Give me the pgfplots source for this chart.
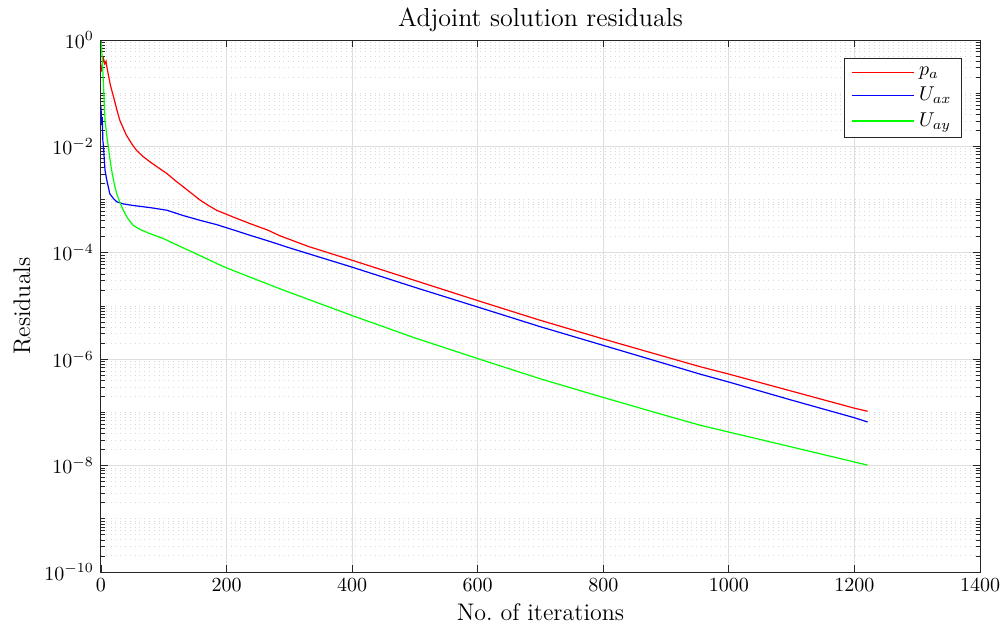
\documentclass[border=0pt]{standalone}
\usepackage{pgfplots}
\pgfplotsset{compat=1.18}
\definecolor{gridc}{RGB}{222,222,222}
\definecolor{axc}{RGB}{38,38,38}
\begin{document}
\begin{tikzpicture}
\useasboundingbox (-50.5pt,-29.5pt) rectangle (452.5pt,286pt);
\begin{axis}[
  at={(0,0)}, anchor=south west,
  scale only axis, width=439.5pt, height=266pt,
  ymode=log, log basis y=10,
  xmin=0, xmax=1400, ymin=1e-10, ymax=1,
  xtick={0,200,...,1400},
  xticklabel style={/pgf/number format/1000 sep={}},
  ytick={1e-10,1e-8,1e-6,1e-4,1e-2,1},
  minor ytick={2e-10,3e-10,4e-10,5e-10,6e-10,7e-10,8e-10,9e-10,1e-9,
               2e-9,3e-9,4e-9,5e-9,6e-9,7e-9,8e-9,9e-9,
               2e-8,3e-8,4e-8,5e-8,6e-8,7e-8,8e-8,9e-8,1e-7,
               2e-7,3e-7,4e-7,5e-7,6e-7,7e-7,8e-7,9e-7,
               2e-6,3e-6,4e-6,5e-6,6e-6,7e-6,8e-6,9e-6,1e-5,
               2e-5,3e-5,4e-5,5e-5,6e-5,7e-5,8e-5,9e-5,
               2e-4,3e-4,4e-4,5e-4,6e-4,7e-4,8e-4,9e-4,1e-3,
               2e-3,3e-3,4e-3,5e-3,6e-3,7e-3,8e-3,9e-3,
               2e-2,3e-2,4e-2,5e-2,6e-2,7e-2,8e-2,9e-2,1e-1,
               2e-1,3e-1,4e-1,5e-1,6e-1,7e-1,8e-1,9e-1},
  xmajorgrids, ymajorgrids, yminorgrids,
  major grid style={gridc, line width=0.5pt},
  minor grid style={gray!30, dotted, line width=0.5pt},
  tick align=inside,
  major tick length=3.5pt, minor tick length=2pt,
  tick style={axc, line width=0.4pt},
  axis line style={axc, line width=0.5pt},
  tick label style={font=\fontsize{10}{12}\selectfont},
  title={Adjoint solution residuals},
  every axis title/.style={at={(axis description cs:0.5,1.0376)}, anchor=center, font=\fontsize{13}{15}\selectfont},
  xlabel={No.\ of iterations},
  every axis x label/.style={at={(axis description cs:0.5,-0.0752)}, anchor=center, font=\fontsize{12}{14}\selectfont},
  ylabel={Residuals},
  every axis y label/.style={at={(axis description cs:-0.0899,0.5)}, rotate=90, anchor=center, font=\fontsize{12}{14}\selectfont},
  legend style={at={(rel axis cs:0.9795,0.966)}, anchor=north east, draw=axc, line width=0.5pt,
    font=\fontsize{10}{12}\selectfont, inner xsep=3pt, inner ysep=2pt, row sep=0.5pt, cells={anchor=west}},
  legend image code/.code={\draw[#1, line width=0.8pt] (0cm,0cm) -- (1.1cm,0cm);},
  legend cell align=left,
]
\addplot[red, line width=0.6pt] coordinates {
(0,2.51e-1) (2,3.55e-1) (4,4.47e-1) (6,3.55e-1) (8,3.98e-1) (10,2.82e-1)
(15,1.41e-1) (20,8.51e-2) (25,5.01e-2) (30,3.09e-2) (40,1.66e-2) (50,1.07e-2)
(57,8.32e-3) (68,6.31e-3) (78,5.13e-3) (90,4.07e-3) (105,3.09e-3) (118,2.29e-3)
(131,1.74e-3) (145,1.29e-3) (158,9.77e-4) (171,7.76e-4) (184,6.31e-4) (211,4.68e-4)
(237,3.55e-4) (265,2.69e-4) (285,2.09e-4) (330,1.32e-4) (400,7.24e-5) (500,3.02e-5)
(603,1.23e-5) (700,5.37e-6) (800,2.40e-6) (900,1.10e-6) (954,7.24e-7) (1000,5.25e-7)
(1100,2.51e-7) (1200,1.20e-7) (1221,1.05e-7)
};
\addlegendentry{$p_a$}
\addplot[blue, line width=0.6pt] coordinates {
(0,5.62e-2) (1,2.51e-2) (2,3.55e-2) (3,1.26e-2) (4,1.00e-2) (5,6.31e-3) (6.4,3.55e-3)
(9,2.40e-3) (11.6,1.74e-3) (14,1.29e-3) (19.6,1.05e-3) (25,9.12e-4) (35,8.32e-4)
(51,7.76e-4) (78,7.08e-4) (105,6.31e-4) (131,5.01e-4) (158,4.07e-4) (184,3.39e-4)
(211,2.69e-4) (237,2.14e-4) (270,1.62e-4) (301,1.23e-4) (400,5.37e-5) (500,2.24e-5)
(603,9.33e-6) (700,4.07e-6) (800,1.82e-6) (900,8.13e-7) (954,5.25e-7) (1000,3.72e-7)
(1100,1.70e-7) (1200,7.94e-8) (1221,6.61e-8)
};
\addlegendentry{$U_{ax}$}
\addplot[green, line width=0.6pt] coordinates {
(0,9.55e-1) (2,4.47e-1) (4,1.41e-1) (6.4,3.09e-2) (9,1.66e-2) (11.6,1.00e-2) (14,6.03e-3)
(17,3.55e-3) (21,2.00e-3) (25,1.29e-3) (30,8.91e-4) (35.5,6.31e-4) (43,4.37e-4)
(51,3.31e-4) (62,2.75e-4) (78,2.29e-4) (99,1.86e-4) (115,1.51e-4) (150,9.77e-5)
(195,5.50e-5) (240,3.39e-5) (290,2.00e-5) (400,6.61e-6) (500,2.51e-6) (603,1.00e-6)
(700,4.27e-7) (800,1.91e-7) (900,8.71e-8) (954,5.75e-8) (1000,4.27e-8) (1100,2.24e-8)
(1200,1.17e-8) (1221,1.02e-8)
};
\addlegendentry{$U_{ay}$}
\end{axis}
\end{tikzpicture}
\end{document}
